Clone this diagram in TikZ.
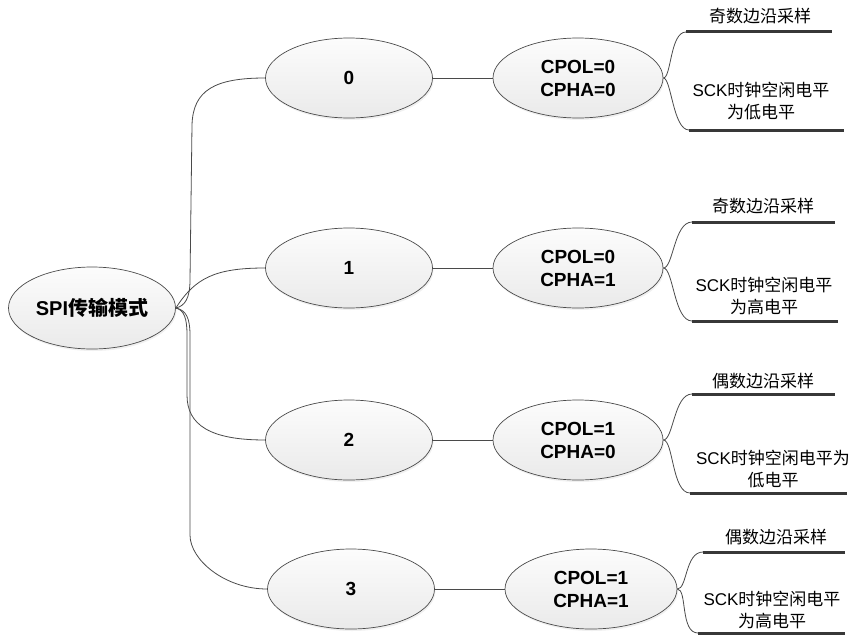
\documentclass[tikz,border=0pt]{standalone}
\usepackage{fontspec}
\setmainfont{Liberation Sans}
\newfontfamily\cjk{Noto Sans CJK SC}
\usetikzlibrary{shapes.geometric,shadows}
\definecolor{edgecol}{HTML}{4A4A4A}
\definecolor{barcol}{HTML}{383838}
\definecolor{ovallow}{HTML}{EAEAEA}
\definecolor{ovaltop}{HTML}{FCFCFC}
\begin{document}
\begin{tikzpicture}[x=1pt,y=-1pt,
  oval/.style={ellipse, draw=edgecol, line width=0.7pt, top color=ovaltop, bottom color=ovallow,
    drop shadow={shadow xshift=1pt, shadow yshift=-2pt, opacity=0.12},
    minimum width=167pt, minimum height=80pt, inner sep=0pt, align=center,
    font=\fontsize{19}{23}\selectfont\bfseries},
  link/.style={draw=edgecol, line width=0.8pt},
  underbar/.style={draw=barcol, line width=3pt},
  lbl/.style={font=\fontsize{17}{22}\selectfont, align=center, inner sep=0pt}]
\useasboundingbox (0,0) rectangle (853,634);

% nodes
\node[oval, minimum height=82pt, font=\fontsize{20}{24}\selectfont\bfseries] (root) at (92,308) {SPI{\cjk 传输模式}};
\node[oval] (n0) at (349,78) {0};
\node[oval] (n1) at (349,268) {1};
\node[oval] (n2) at (349,440) {2};
\node[oval] (n3) at (351,589) {3};
\node[oval, minimum width=170pt] (c0) at (578,78) {CPOL=0\\CPHA=0};
\node[oval, minimum width=170pt] (c1) at (578,268) {CPOL=0\\CPHA=1};
\node[oval, minimum width=170pt] (c2) at (578,440) {CPOL=1\\CPHA=0};
\node[oval, minimum width=172pt] (c3) at (591,589) {CPOL=1\\CPHA=1};

% root connectors
\draw[link] (root.east) .. controls (185,306) and (190,298) .. (190,280) -- (192,125) .. controls (193,90) and (215,78) .. (n0.west);
\draw[link] (root.east) .. controls (195,278) and (215,268) .. (n1.west);
\draw[link] (root.east) .. controls (184,310) and (187,318) .. (187,335) -- (187,395) .. controls (187,425) and (210,440) .. (n2.west);
\draw[link] (root.east) .. controls (186,310) and (190,318) .. (190,335) -- (190,535) .. controls (190,560) and (225,589) .. (n3.west);

% middle connectors
\draw[link] (n0) -- (c0);
\draw[link] (n1) -- (c1);
\draw[link] (n2) -- (c2);
\draw[link] (n3) -- (c3);

% right side: row 0
\coordinate (u0) at (686,32);
\coordinate (v0) at (689,130);
\draw[underbar] (u0) -- (832,32);
\draw[underbar] (v0) -- (844,130);
\node[lbl] (a0) at (760,16) {{\cjk 奇数边沿采样}};
\node[lbl] (b0) at (761,101) {SCK{\cjk 时钟空闲电平}\\{\cjk 为低电平}};
\draw[link] (c0.east) .. controls +(8,0) and +(-16,0) .. (u0);
\draw[link] (c0.east) .. controls +(8,0) and +(-16,0) .. (v0);

% row 1
\coordinate (u1) at (692,222);
\coordinate (v1) at (692,321);
\draw[underbar] (u1) -- (835,222);
\draw[underbar] (v1) -- (838,321);
\node[lbl] (a1) at (763,206) {{\cjk 奇数边沿采样}};
\node[lbl] (b1) at (764,296) {SCK{\cjk 时钟空闲电平}\\{\cjk 为高电平}};
\draw[link] (c1.east) .. controls +(10,0) and +(-18,0) .. (u1);
\draw[link] (c1.east) .. controls +(10,0) and +(-18,0) .. (v1);

% row 2
\coordinate (u2) at (692,394);
\coordinate (v2) at (690,493);
\draw[underbar] (u2) -- (835,394);
\draw[underbar] (v2) -- (847,493);
\node[lbl] (a2) at (763,381) {{\cjk 偶数边沿采样}};
\node[lbl] (b2) at (773,469) {SCK{\cjk 时钟空闲电平为}\\{\cjk 低电平}};
\draw[link] (c2.east) .. controls +(10,0) and +(-18,0) .. (u2);
\draw[link] (c2.east) .. controls +(10,0) and +(-18,0) .. (v2);

% row 3
\coordinate (u3) at (703,552);
\coordinate (v3) at (698,633);
\draw[underbar] (u3) -- (845,552);
\draw[underbar] (v3) -- (845,633);
\node[lbl] (a3) at (776,537) {{\cjk 偶数边沿采样}};
\node[lbl] (b3) at (772,610) {SCK{\cjk 时钟空闲电平}\\{\cjk 为高电平}};
\draw[link] (c3.east) .. controls +(10,0) and +(-18,0) .. (u3);
\draw[link] (c3.east) .. controls +(10,0) and +(-18,0) .. (v3);
\end{tikzpicture}
\end{document}
